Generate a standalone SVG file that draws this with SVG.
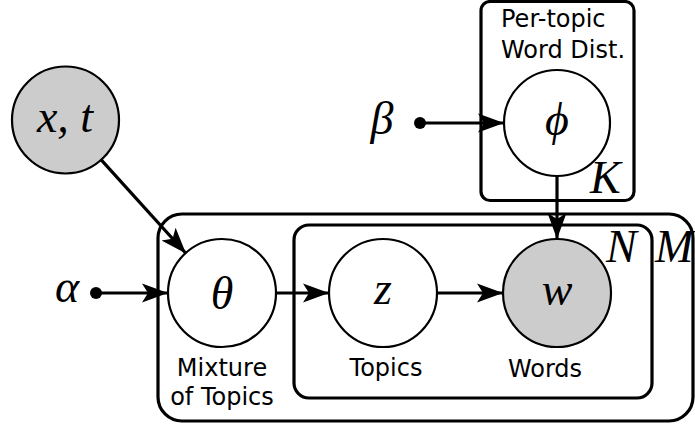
<svg xmlns="http://www.w3.org/2000/svg" width="695" height="425" viewBox="0 0 695 425">
<style>
.plate{fill:none;stroke:#000;stroke-width:3.2}
.node{stroke:#000;stroke-width:2.2}
.open{fill:#fff}
.obs{fill:#cccccc}
.edge{stroke:#000;stroke-width:3.2;fill:none}
.math{font-family:"Liberation Serif","DejaVu Serif",serif;font-style:italic;font-size:46px;fill:#000}
.lbl{font-family:"DejaVu Sans","Liberation Sans",sans-serif;font-size:24px;fill:#000}
</style>
<defs>
<marker id="ah" markerUnits="userSpaceOnUse" markerWidth="27" markerHeight="22" viewBox="0 0 27 22" refX="26" refY="11" orient="auto">
<path d="M0,1.5 L26,11 L0,20.5 L6,11 z" fill="#000"/>
</marker>
</defs>
<g id="plates">
<rect id="plate-K" class="plate" x="481" y="1.5" width="153" height="199" rx="9"/>
<rect id="plate-M" class="plate" x="158" y="214" width="535" height="207" rx="24"/>
<rect id="plate-N" class="plate" x="294" y="225" width="358" height="173" rx="15"/>
<text class="math" x="590" y="193">K</text>
<text class="math" x="606" y="262">N</text>
<text class="math" x="655" y="262">M</text>
</g>
<g id="connectors">
<line class="edge" x1="101" y1="159.6" x2="186" y2="253.5" marker-end="url(#ah)"/>
<line class="edge" x1="96" y1="293" x2="168" y2="293" marker-end="url(#ah)"/>
<line class="edge" x1="276" y1="293" x2="329" y2="293" marker-end="url(#ah)"/>
<line class="edge" x1="437" y1="293" x2="503" y2="293" marker-end="url(#ah)"/>
<line class="edge" x1="420" y1="123" x2="504" y2="123" marker-end="url(#ah)"/>
<line class="edge" x1="557" y1="176" x2="557" y2="239" marker-end="url(#ah)"/>
<circle cx="96" cy="293" r="6" fill="#000"/>
<circle cx="420" cy="123" r="6" fill="#000"/>
</g>
<g id="node-xt">
<circle class="node obs" cx="65.5" cy="120" r="53.5"/>
<text class="math" x="65" y="132" text-anchor="middle">x, t</text>
</g>
<g id="node-alpha">
<text class="math" x="67" y="302" text-anchor="middle">α</text>
</g>
<g id="node-beta">
<text class="math" x="382" y="134" text-anchor="middle">β</text>
</g>
<g id="node-theta">
<circle class="node open" cx="222" cy="293" r="54"/>
<text class="math" x="222" y="309" text-anchor="middle">θ</text>
<text class="lbl" x="222" y="376" text-anchor="middle">Mixture</text>
<text class="lbl" x="222" y="405" text-anchor="middle">of Topics</text>
</g>
<g id="node-z">
<circle class="node open" cx="383" cy="293" r="54"/>
<text class="math" x="383" y="304" text-anchor="middle">z</text>
<text class="lbl" x="386" y="376" text-anchor="middle">Topics</text>
</g>
<g id="node-w">
<circle class="node obs" cx="557" cy="293" r="54"/>
<text class="math" x="557" y="305" text-anchor="middle">w</text>
<text class="lbl" x="545" y="377" text-anchor="middle">Words</text>
</g>
<g id="node-phi">
<circle class="node open" cx="557" cy="123" r="53"/>
<text class="math" x="557" y="135" text-anchor="middle">ϕ</text>
<text class="lbl" x="501" y="27">Per-topic</text>
<text class="lbl" x="501" y="58">Word Dist.</text>
</g>
</svg>
